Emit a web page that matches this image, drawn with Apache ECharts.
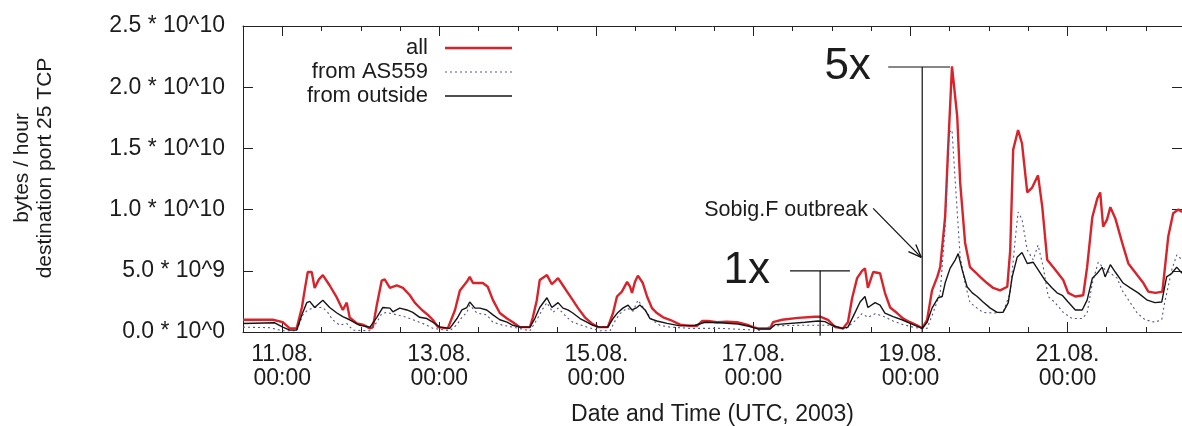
<!DOCTYPE html>
<html>
<head>
<meta charset="utf-8">
<script src="https://cdn.jsdelivr.net/npm/echarts@6/dist/echarts.min.js"></script>
<style>
html,body{margin:0;padding:0;background:#fff;}
#c{width:1182px;height:426px;}
</style>
</head>
<body>
<div id="c"></div>
<script>
// Hours relative to 11.08.2003 00:00 UTC; values in units of 10^9 bytes/hour
const seriesNames = ['all', 'from AS559', 'from outside'];

const hoursAll = [-12,-2.9,0.15,2.3,4.4,6.0,6.9,7.8,9.0,9.9,11.2,12.4,14.5,16.7,18.5,19.7,20.6,22.8,24.6,26.8,27.7,28.9,30.4,31.3,32.9,35.0,36.9,39.0,40.5,42.7,44.5,46.0,47.6,50.6,52.8,54.3,56.4,57.3,58.3,59.8,61.3,62.8,64.4,66.5,68.7,70.5,72.6,75.7,76.6,77.8,78.7,80.9,82.4,84.3,85.8,87.3,88.8,90.4,92.5,94.6,96.5,99.5,101.1,102.3,103.8,105.4,106.3,106.9,107.8,108.7,110.2,111.5,113.0,114.5,116.4,118.5,121.6,124.6,126.8,128.3,130.1,132.9,135.9,139.0,142.0,143.9,145.4,149.1,150.0,152.8,157.6,162.8,164.4,166.8,169.0,171.4,172.9,174.2,175.7,177.2,178.1,179.0,180.6,182.7,184.2,185.8,187.9,189.8,191.9,194.0,195.6,197.1,198.6,200.2,201.1,202.6,203.5,204.7,206.3,207.2,208.7,210.2,211.8,213.3,215.4,217.3,219.4,221.6,222.5,223.4,224.9,226.1,227.7,229.2,231.0,232.3,233.8,236.2,238.7,240.2,242.4,244.8,246.0,247.6,249.1,250.0,250.9,252.1,253.1,254.6,256.7,258.6,261.3,263.2,264.7,266.9,269.0,270.8,272.3,273.9,275];
const valuesAll = [1.0,1.0,0.8,0.3,0.3,2.0,3.5,4.9,4.9,3.6,4.3,4.65,3.8,2.8,1.8,2.4,1.2,0.7,0.6,0.3,0.4,2.2,4.2,4.3,3.6,3.8,3.6,3.0,2.4,1.8,1.4,1.0,0.4,0.3,1.8,3.4,4.1,4.5,4.0,4.0,4.0,3.7,2.6,1.55,1.1,0.8,0.4,0.4,1.2,2.6,4.25,4.65,3.9,4.4,3.8,3.2,2.6,1.95,1.2,0.7,0.4,0.4,1.55,2.9,3.3,4.1,3.7,3.2,4.1,4.6,4.0,2.9,1.95,1.55,1.2,1.0,0.6,0.5,0.5,0.9,0.9,0.8,0.85,0.8,0.6,0.4,0.3,0.3,0.8,1.0,1.15,1.25,1.25,1.0,0.4,0.3,0.8,2.8,4.4,5.0,5.2,3.6,4.9,4.8,3.2,2.0,1.55,1.1,0.8,0.55,0.3,1.0,3.4,4.5,5.3,9.4,14.9,21.7,17.6,12.2,7.3,5.3,4.9,4.5,4.0,3.6,3.4,3.7,6.7,14.9,16.5,15.4,11.4,11.8,12.8,10.2,5.9,5.1,4.25,3.2,2.9,3.0,5.3,9.4,10.9,11.4,8.6,9.2,10.2,9.3,7.3,5.6,4.65,4.0,3.3,3.2,3.3,7.8,9.7,10.0,9.8];

const hoursAS559 = [-12,-3.8,0.15,4.4,6.3,7.8,9.9,12.4,13.9,15.4,17.6,19.7,21.6,26.8,28.9,30.4,32.0,35.0,38.1,39.9,42.0,44.2,46.0,51.2,53.4,54.9,56.4,57.3,59.5,62.5,64.4,67.4,70.5,75.7,77.8,79.4,80.9,82.7,84.3,87.0,88.8,93.1,97.1,100.2,101.7,103.2,105.4,107.2,108.7,110.9,113.0,115.4,118.5,124.6,133.8,141.4,146.0,149.7,158.3,167.4,172.0,175.0,177.2,179.0,181.2,183.6,186.7,189.8,193.5,197.1,198.9,201.1,202.6,203.8,204.7,205.6,207.2,208.7,210.2,212.4,214.2,217.3,220.3,222.5,224.0,224.9,226.1,227.7,229.5,231.0,232.6,234.1,236.2,238.7,241.4,244.5,246.0,247.6,249.4,251.5,253.1,255.2,256.7,259.2,261.3,263.7,266.7,268.8,269.7,271.9,273.4,275];
const valuesAS559 = [0.4,0.35,0.1,0.1,1.4,1.8,2.0,2.0,1.6,1.0,0.55,0.7,0.15,0.1,0.8,1.5,1.6,1.4,1.2,1.0,0.8,0.55,0.3,0.1,0.6,1.2,1.6,2.2,1.55,1.4,0.8,0.55,0.4,0.1,1.0,1.8,2.4,1.6,1.95,1.2,0.8,0.4,0.1,0.1,0.9,1.5,1.95,1.7,2.6,1.8,1.0,0.55,0.4,0.3,0.3,0.2,0.15,0.5,0.55,0.55,0.2,0.9,1.5,1.2,1.5,1.3,0.9,0.6,0.35,0.3,1.55,3.2,8.6,16.3,16.5,12.7,6.1,4.0,2.4,1.95,1.6,1.55,1.6,3.2,7.5,9.8,9.2,6.7,5.9,7.1,5.3,2.9,2.4,1.6,1.1,1.1,1.55,4.0,5.7,5.1,4.8,4.4,3.4,2.4,1.55,1.0,0.8,1.0,2.4,5.1,6.3,5.9];

const hoursOutside = [-12,-2.3,0.15,2.3,4.4,6.0,7.5,8.4,9.9,12.4,14.5,16.7,18.5,20.6,23.7,26.8,28.9,30.7,32.9,33.8,35.9,38.1,39.9,42.0,44.2,46.0,48.2,51.2,53.4,54.9,56.4,57.3,58.9,60.4,62.5,64.4,66.5,68.7,70.5,72.6,75.7,77.2,78.7,80.9,82.4,84.3,85.8,87.3,88.8,91.0,93.1,94.9,97.1,99.5,101.1,102.6,104.1,105.7,106.9,108.4,109.3,110.9,112.4,114.5,117.6,121.6,126.2,129.2,133.8,139.3,143.0,145.4,149.1,150.6,159.8,163.8,165.9,168.0,171.1,172.9,175.1,176.6,178.1,179.0,181.2,182.7,184.2,186.7,189.4,191.9,195.6,197.1,198.6,200.5,201.7,202.6,204.1,205.7,206.6,207.8,209.3,210.9,212.4,214.2,216.4,218.5,220.3,221.9,223.1,224.6,226.1,227.7,229.5,231.0,233.2,235.3,236.8,238.4,240.2,242.4,244.5,246.0,247.6,249.1,250.6,251.5,253.1,254.6,257.0,259.2,261.6,264.4,266.7,268.8,270.3,271.9,273.4,275];
const valuesOutside = [0.7,0.75,0.4,0.15,0.15,1.4,2.4,2.5,2.0,2.6,2.0,1.55,1.25,1.0,0.55,0.4,1.2,2.0,1.95,1.65,1.95,1.8,1.6,1.2,1.1,0.8,0.4,0.3,1.1,1.8,2.0,2.45,1.95,1.95,1.8,1.4,1.0,0.8,0.55,0.4,0.4,1.1,2.0,2.8,2.0,2.4,1.95,1.8,1.55,1.1,0.8,0.55,0.4,0.4,1.1,1.6,1.95,2.2,1.8,2.0,2.2,1.8,1.1,0.9,0.7,0.5,0.55,0.8,0.75,0.65,0.45,0.25,0.25,0.6,0.8,0.9,0.85,0.55,0.3,0.4,1.6,2.45,2.9,2.0,2.4,2.2,1.55,1.25,1.0,0.7,0.3,0.8,1.95,2.8,2.9,4.0,5.2,5.9,6.4,5.1,3.7,3.2,2.9,2.45,1.95,1.6,1.6,2.4,4.5,6.1,6.5,5.6,5.7,5.1,4.2,3.6,3.2,3.0,2.45,1.8,1.8,2.6,4.4,4.8,5.3,4.5,5.5,4.9,4.0,3.6,3.2,2.6,2.4,2.45,4.5,4.8,5.3,4.8];

const xLabelHours = [0, 48, 96, 144, 192, 240];
const xLabelTexts = ['11.08.\n00:00', '13.08.\n00:00', '15.08.\n00:00', '17.08.\n00:00', '19.08.\n00:00', '21.08.\n00:00'];
const yTickLabels = ['0.0 * 10^0', '5.0 * 10^9', '1.0 * 10^10', '1.5 * 10^10', '2.0 * 10^10', '2.5 * 10^10'];

// annotation anchors (data space)
const outbreakHour = 195.6;
const peakLevel = 21.65;
const baseHour = 164.4;
const baseLevel = 5.0;

const FONT = '"Liberation Sans", Arial, Helvetica, sans-serif';
const TXT = '#1c1c1c';
const AX = '#222222';
const COL_ALL = '#d9232a';
const COL_AS = '#55558a';
const COL_OUT = '#151515';

const chart = echarts.init(document.getElementById('c'), null, {renderer: 'canvas'});
const pairs = (hs, vs) => hs.map((h, i) => [h, vs[i]]);
const baseX = {type: 'value', min: -12, max: 275, gridIndex: 0, splitLine: {show: false}};
const tickStyle = {color: AX, width: 1};

chart.setOption({
  animation: false,
  backgroundColor: '#ffffff',
  textStyle: {fontFamily: FONT},
  grid: {left: 243, right: 0, top: 26, bottom: 94, containLabel: false, outerBoundsMode: 'none'},
  xAxis: [
    Object.assign({}, baseX, {position: 'bottom', interval: 12,
      axisLine: {show: true, onZero: false, lineStyle: tickStyle},
      axisTick: {show: true, inside: true, length: 5, lineStyle: tickStyle},
      axisLabel: {show: false}}),
    Object.assign({}, baseX, {position: 'bottom',
      axisLine: {show: false, onZero: false},
      axisTick: {show: true, inside: true, length: 10, customValues: xLabelHours, lineStyle: tickStyle},
      axisLabel: {show: true, customValues: xLabelHours,
        formatter: v => { const i = xLabelHours.indexOf(Math.round(v)); return i >= 0 ? xLabelTexts[i] : ''; },
        fontSize: 23, lineHeight: 24, color: TXT, fontFamily: FONT, margin: 11},
      name: 'Date and Time (UTC, 2003)', nameLocation: 'middle', nameGap: 71,
      nameTextStyle: {fontSize: 23, color: TXT, fontFamily: FONT}}),
    Object.assign({}, baseX, {position: 'top', interval: 12,
      axisLine: {show: true, onZero: false, lineStyle: tickStyle},
      axisTick: {show: true, inside: true, length: 5, lineStyle: tickStyle},
      axisLabel: {show: false}}),
    Object.assign({}, baseX, {position: 'top',
      axisLine: {show: false, onZero: false},
      axisTick: {show: true, inside: true, length: 10, customValues: xLabelHours, lineStyle: tickStyle},
      axisLabel: {show: false}})
  ],
  yAxis: [
    {type: 'value', min: 0, max: 25, interval: 5, position: 'left',
      splitLine: {show: false},
      axisLine: {show: true, onZero: false, lineStyle: tickStyle},
      axisTick: {show: true, inside: true, length: 10, lineStyle: tickStyle},
      axisLabel: {formatter: v => yTickLabels[Math.round(v / 5)], fontSize: 23, color: TXT, fontFamily: FONT, margin: 18}},
    {type: 'value', min: 0, max: 25, interval: 5, position: 'right',
      splitLine: {show: false},
      axisLine: {show: true, onZero: false, lineStyle: tickStyle},
      axisTick: {show: true, inside: true, length: 10, lineStyle: tickStyle},
      axisLabel: {show: false}}
  ],
  series: [
    {name: seriesNames[0], type: 'line', xAxisIndex: 0, yAxisIndex: 0, showSymbol: false, symbol: 'none',
      data: pairs(hoursAll, valuesAll), lineStyle: {color: COL_ALL, width: 2.4}, z: 3},
    {name: seriesNames[1], type: 'line', xAxisIndex: 0, yAxisIndex: 0, showSymbol: false, symbol: 'none',
      data: pairs(hoursAS559, valuesAS559), lineStyle: {color: COL_AS, width: 1.1, type: [2, 3]}, z: 4},
    {name: seriesNames[2], type: 'line', xAxisIndex: 0, yAxisIndex: 0, showSymbol: false, symbol: 'none',
      data: pairs(hoursOutside, valuesOutside), lineStyle: {color: COL_OUT, width: 1.4}, z: 5}
  ]
});

const px = (h, v) => chart.convertToPixel({xAxisIndex: 0, yAxisIndex: 0}, [h, v]);
const seg = (a, b, w) => ({type: 'line', silent: true, z: 10,
  shape: {x1: a[0], y1: a[1], x2: b[0], y2: b[1]}, style: {stroke: '#111', lineWidth: w || 1.2}});
const label = (x, y, text, size, align) => ({type: 'text', silent: true, z: 10, x: x, y: y,
  style: {text: text, fill: TXT, font: 'normal ' + size + 'px ' + FONT, align: align || 'right', verticalAlign: 'middle'}});

const g = [];
// 5x marker
const peakY = px(outbreakHour, peakLevel)[1];
g.push(seg(px(outbreakHour, 0), px(outbreakHour, peakLevel)));
g.push(seg(px(185.2, peakLevel), px(204.1, peakLevel)));
g.push(label(px(179.9, peakLevel)[0], peakY, '5x', 44));
// 1x marker
g.push(seg(px(baseHour, -0.3), px(baseHour, baseLevel)));
g.push(seg(px(155.2, baseLevel), px(173.5, baseLevel)));
g.push(label(px(149.1, baseLevel)[0], px(149.1, baseLevel)[1], '1x', 44));
// outbreak note and arrow
const a0 = px(180.6, 10.1), a1 = px(195.3, 6.1);
g.push(label(px(179.0, 9.97)[0], px(179.0, 9.97)[1], 'Sobig.F outbreak', 21.5));
g.push(seg(a0, a1, 1.3));
const ang = Math.atan2(a1[1] - a0[1], a1[0] - a0[0]);
[0.38, -0.38].forEach(d => {
  const t = ang + Math.PI + d;
  g.push(seg(a1, [a1[0] + 14 * Math.cos(t), a1[1] + 14 * Math.sin(t)], 1.3));
});
// legend (right-aligned labels with line samples)
const legendStyles = [
  {stroke: COL_ALL, lineWidth: 2.5},
  {stroke: COL_AS, lineWidth: 1.1, lineDash: [2, 3]},
  {stroke: COL_OUT, lineWidth: 1.5}
];
seriesNames.forEach((n, i) => {
  const y = 48 + i * 24;
  g.push(label(428, y, n, 22, 'right'));
  g.push({type: 'line', silent: true, z: 10, shape: {x1: 445, y1: y, x2: 512, y2: y}, style: legendStyles[i]});
});
// y-axis title (two lines, rotated)
g.push({type: 'text', silent: true, z: 10, x: 34, y: 168, rotation: Math.PI / 2,
  style: {text: 'bytes / hour\ndestination port 25 TCP', fill: TXT, font: 'normal 21px ' + FONT,
    align: 'center', verticalAlign: 'middle', lineHeight: 23}});

chart.setOption({graphic: {elements: g}});
</script>
</body>
</html>
